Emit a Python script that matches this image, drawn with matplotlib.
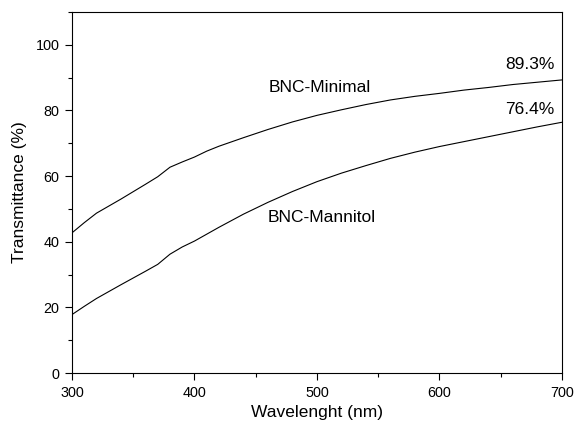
import matplotlib
matplotlib.use("Agg")
import matplotlib.pyplot as plt
from matplotlib.ticker import MultipleLocator

plt.rcParams['font.family'] = ['Liberation Sans', 'DejaVu Sans']

wavelength = [300, 310, 320, 340, 360, 370, 380, 390, 400, 410, 420, 440, 460, 480,
              500, 520, 540, 560, 580, 600, 620, 640, 660, 680, 700]
bnc_minimal = [42.7, 45.8, 48.7, 53.0, 57.5, 59.8, 62.7, 64.3, 65.8, 67.6, 69.1, 71.7, 74.2, 76.5,
               78.5, 80.2, 81.8, 83.2, 84.3, 85.2, 86.2, 87.0, 87.9, 88.6, 89.3]
bnc_mannitol = [17.8, 20.3, 22.7, 26.9, 31.0, 33.1, 36.2, 38.4, 40.2, 42.3, 44.4, 48.4, 52.0, 55.3,
                58.3, 60.9, 63.2, 65.4, 67.3, 69.0, 70.5, 72.0, 73.5, 75.0, 76.4]
series_labels = ["BNC-Minimal", "BNC-Mannitol"]
end_labels = ["89.3%", "76.4%"]

fig = plt.figure(figsize=(5.74, 4.28), dpi=100)
ax = fig.add_axes([0.1254, 0.1285, 0.979 - 0.1254, 0.972 - 0.1285])

ax.plot(wavelength, bnc_minimal, color='black', lw=0.8)
ax.plot(wavelength, bnc_mannitol, color='black', lw=0.8)

ax.set_xlim(300, 700)
ax.set_ylim(0, 110)
ax.xaxis.set_major_locator(MultipleLocator(100))
ax.xaxis.set_minor_locator(MultipleLocator(50))
ax.yaxis.set_major_locator(MultipleLocator(20))
ax.yaxis.set_minor_locator(MultipleLocator(10))
ax.tick_params(which='major', direction='out', length=5, width=0.8, labelsize=10.4, pad=4)
ax.tick_params(which='minor', direction='out', length=3, width=0.8)
ax.tick_params(top=False, right=False, which='both')
for s in ax.spines.values():
    s.set_linewidth(0.8)

ax.set_xlabel("Wavelenght (nm)", fontsize=12.5, labelpad=4)
ax.set_ylabel("Transmittance (%)", fontsize=12.5, labelpad=6)

ax.text(502, 87, series_labels[0], fontsize=12.5, ha='center', va='center')
ax.text(504, 47.5, series_labels[1], fontsize=12.5, ha='center', va='center')
ax.text(694, 94.1, end_labels[0], fontsize=12.5, ha='right', va='center')
ax.text(694, 80.4, end_labels[1], fontsize=12.5, ha='right', va='center')

fig.savefig("out.png", dpi=100)
